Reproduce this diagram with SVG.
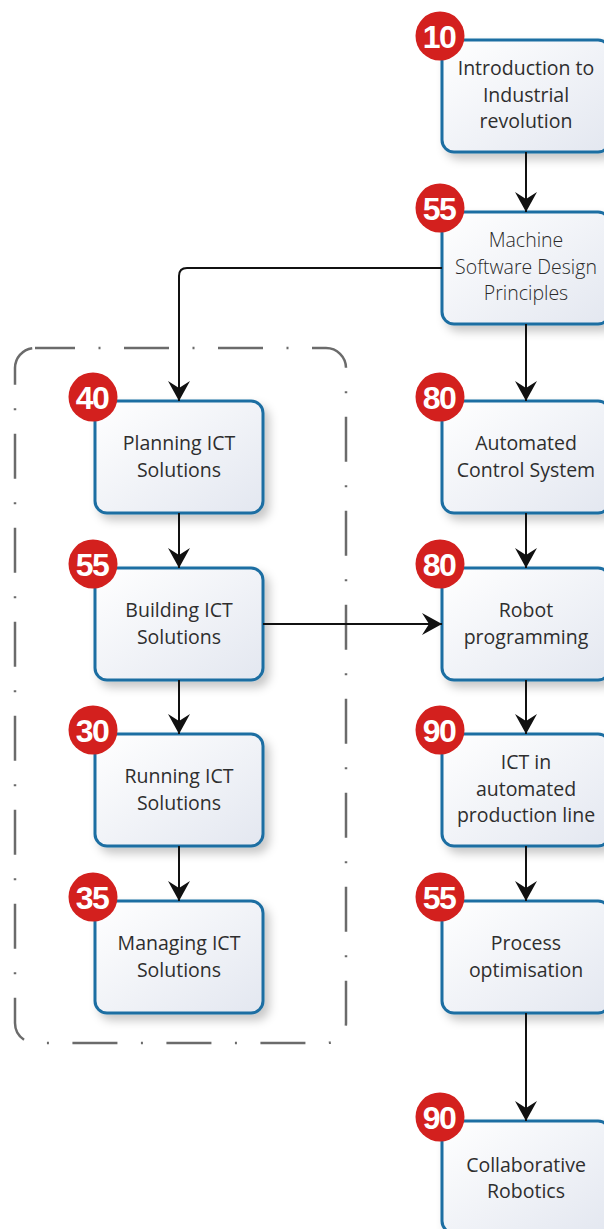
<svg xmlns="http://www.w3.org/2000/svg" width="604" height="1229" viewBox="0 0 604 1229">
<style>
.box{fill:url(#g);stroke:#1d6ea2;stroke-width:3;filter:url(#sh)}
.t{font-family:"Open Sans","Noto Sans",sans-serif;font-size:19.5px;fill:#2e2e2e;text-anchor:middle}
.tl{font-weight:300;fill:#2a2a2a}
.bc{fill:#d3201e}
.bn{font-family:"Liberation Sans",Arial,sans-serif;font-weight:bold;font-size:32px;fill:#fff;text-anchor:middle;letter-spacing:-1.5px}
.c{fill:none;stroke:#111;stroke-width:2;marker-end:url(#ah)}
.frame{fill:none;stroke:#6b6b6b;stroke-width:2.5;stroke-dasharray:45 23.5 2 23.5;stroke-dashoffset:5}
</style>
<defs>
<linearGradient id="g" x1="0" y1="0" x2="1" y2="1">
<stop offset="0" stop-color="#ffffff"/>
<stop offset="1" stop-color="#e3e7f0"/>
</linearGradient>
<filter id="sh" x="-20%" y="-20%" width="150%" height="150%">
<feDropShadow dx="5" dy="6" stdDeviation="5" flood-color="#000" flood-opacity="0.22"/>
</filter>
<marker id="ah" viewBox="-21 -12 22 24" refX="0" refY="0" markerWidth="22" markerHeight="24" markerUnits="userSpaceOnUse" orient="auto">
<path d="M0,0 L-20,-11 L-13,0 L-20,11 Z" fill="#111"/>
</marker>
</defs>
<rect width="604" height="1229" fill="#fff"/>
<rect class="frame" x="15" y="348" width="331" height="695" rx="20"/>

<g id="n10">
<rect class="box" x="442" y="40" width="168" height="112" rx="12"/>
<text class="t" x="526" y="75">Introduction to</text>
<text class="t" x="526" y="102">Industrial</text>
<text class="t" x="526" y="128">revolution</text>
<circle class="bc" cx="440" cy="36" r="24.5"/><text class="bn" x="439" y="47.5">10</text>
</g>
<g id="n55a">
<rect class="box" x="442" y="212" width="168" height="112" rx="12"/>
<text class="t tl" x="526" y="247">Machine</text>
<text class="t tl" x="526" y="274">Software Design</text>
<text class="t tl" x="526" y="300">Principles</text>
<circle class="bc" cx="440" cy="208" r="24.5"/><text class="bn" x="439" y="219.5">55</text>
</g>
<g id="n80a">
<rect class="box" x="442" y="401" width="168" height="112" rx="12"/>
<text class="t" x="526" y="450">Automated</text>
<text class="t" x="526" y="477">Control System</text>
<circle class="bc" cx="440" cy="397" r="24.5"/><text class="bn" x="439" y="408.5">80</text>
</g>
<g id="n80b">
<rect class="box" x="442" y="568" width="168" height="112" rx="12"/>
<text class="t" x="526" y="617">Robot</text>
<text class="t" x="526" y="644">programming</text>
<circle class="bc" cx="440" cy="564" r="24.5"/><text class="bn" x="439" y="575.5">80</text>
</g>
<g id="n90a">
<rect class="box" x="442" y="734" width="168" height="112" rx="12"/>
<text class="t" x="526" y="769">ICT in</text>
<text class="t" x="526" y="796">automated</text>
<text class="t" x="526" y="822">production line</text>
<circle class="bc" cx="440" cy="730" r="24.5"/><text class="bn" x="439" y="741.5">90</text>
</g>
<g id="n55b">
<rect class="box" x="442" y="901" width="168" height="112" rx="12"/>
<text class="t" x="526" y="950">Process</text>
<text class="t" x="526" y="977">optimisation</text>
<circle class="bc" cx="440" cy="897" r="24.5"/><text class="bn" x="439" y="908.5">55</text>
</g>
<g id="n90b">
<rect class="box" x="442" y="1121" width="168" height="112" rx="12"/>
<text class="t" x="526" y="1172">Collaborative</text>
<text class="t" x="526" y="1198">Robotics</text>
<circle class="bc" cx="440" cy="1117" r="24.5"/><text class="bn" x="439" y="1128.5">90</text>
</g>

<g id="n40">
<rect class="box" x="95" y="401" width="168" height="112" rx="12"/>
<text class="t" x="179" y="450">Planning ICT</text>
<text class="t" x="179" y="477">Solutions</text>
<circle class="bc" cx="93" cy="397" r="24.5"/><text class="bn" x="92" y="408.5">40</text>
</g>
<g id="n55c">
<rect class="box" x="95" y="568" width="168" height="112" rx="12"/>
<text class="t" x="179" y="617">Building ICT</text>
<text class="t" x="179" y="644">Solutions</text>
<circle class="bc" cx="93" cy="564" r="24.5"/><text class="bn" x="92" y="575.5">55</text>
</g>
<g id="n30">
<rect class="box" x="95" y="734" width="168" height="112" rx="12"/>
<text class="t" x="179" y="783">Running ICT</text>
<text class="t" x="179" y="810">Solutions</text>
<circle class="bc" cx="93" cy="730" r="24.5"/><text class="bn" x="92" y="741.5">30</text>
</g>
<g id="n35">
<rect class="box" x="95" y="901" width="168" height="112" rx="12"/>
<text class="t" x="179" y="950">Managing ICT</text>
<text class="t" x="179" y="977">Solutions</text>
<circle class="bc" cx="93" cy="897" r="24.5"/><text class="bn" x="92" y="908.5">35</text>
</g>

<g id="connectors">
<path class="c" d="M526,152 V212"/>
<path class="c" d="M526,324 V401"/>
<path class="c" d="M526,513 V568"/>
<path class="c" d="M526,680 V734"/>
<path class="c" d="M526,846 V901"/>
<path class="c" d="M526,1013 V1121"/>
<path class="c" d="M442,268 H187 Q179,268 179,276 V401"/>
<path class="c" d="M179,513 V568"/>
<path class="c" d="M179,680 V734"/>
<path class="c" d="M179,846 V901"/>
<path class="c" d="M263,624 H442"/>
</g>
</svg>
